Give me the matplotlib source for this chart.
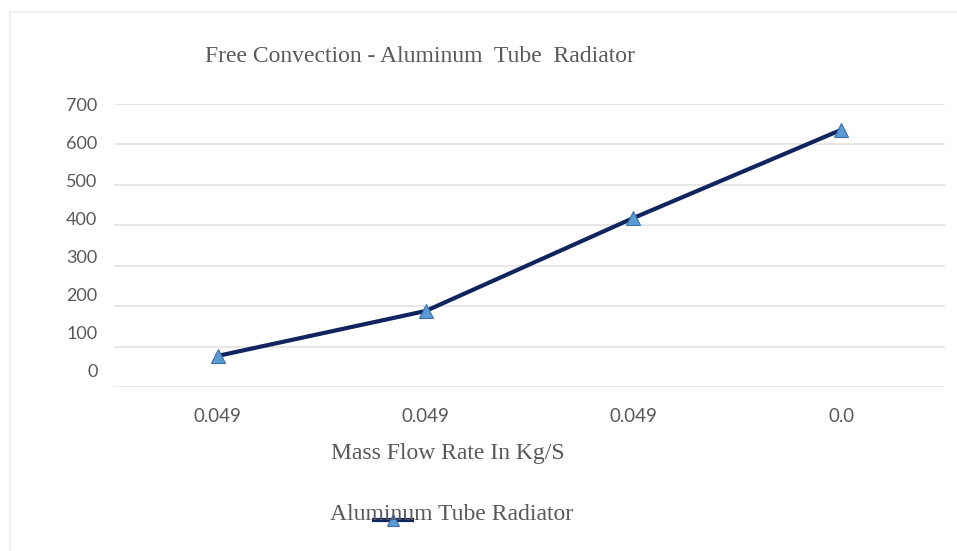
import matplotlib
matplotlib.use("Agg")
import matplotlib.pyplot as plt
from matplotlib.lines import Line2D

# data
categories = ["0.049", "0.049", "0.049", "0.0"]
heat_values = [77, 188, 418, 636]
y_ticks = [0, 100, 200, 300, 400, 500, 600, 700]

line_color = "#10245f"
marker_color = "#5b9bd5"
grey_text = "#595959"

fig = plt.figure(figsize=(9.57, 5.51), dpi=100)
W, H = 957, 551

# axes placed in pixel terms: x 114..945, y 104..387 (from the top)
ax = fig.add_axes([114 / W, 1 - 387 / H, (945 - 114) / W, (387 - 104) / H])

x = list(range(len(categories)))
ax.plot(x, heat_values, color=line_color, lw=3, marker="^", markersize=10,
        markerfacecolor=marker_color, markeredgecolor="#3f6fa8", markeredgewidth=0.8,
        zorder=3)

ax.set_xlim(-0.5, len(categories) - 0.5)
ax.set_ylim(0, 700)
ax.set_yticks(y_ticks)
ax.yaxis.grid(True, color="#e3e3e3", lw=1.2)
ax.set_axisbelow(True)
for s in ax.spines.values():
    s.set_visible(False)
ax.tick_params(length=0)

ax.set_xticks(x)
ax.set_xticklabels(categories, fontfamily="Lato", fontsize=13.5, color=grey_text)
ax.tick_params(axis="x", pad=15)

# y labels in the source sit slightly squeezed against the gridlines
ax.set_yticklabels([])
for v in y_ticks:
    ax.text(-0.02, 37 + v * 0.94, str(v), transform=ax.get_yaxis_transform(),
            ha="right", va="center", fontfamily="Lato", fontsize=13, color=grey_text)

# title, axis title and legend in serif, like the original
fig.text(420 / W, 1 - 57 / H, "Free Convection - Aluminum  Tube  Radiator",
         ha="center", va="center", fontfamily="Liberation Serif", fontsize=17, color=grey_text)
fig.text(448 / W, 1 - 454 / H, "Mass Flow Rate In Kg/S",
         ha="center", va="center", fontfamily="Liberation Serif", fontsize=17, color=grey_text)
fig.text(330 / W, 1 - 514 / H, "Aluminum Tube Radiator",
         ha="left", va="center", fontfamily="Liberation Serif", fontsize=17, color=grey_text)
fig.add_artist(Line2D([374 / W, 412 / W], [1 - 520 / H, 1 - 520 / H], color=line_color, lw=3))
fig.add_artist(Line2D([393 / W], [1 - 520 / H], marker="^", markersize=8, color=marker_color,
                      markeredgecolor="#3f6fa8", markeredgewidth=0.8))

# faint outer frame at the top and left
fig.add_artist(Line2D([10 / W, 1], [1 - 12 / H, 1 - 12 / H], color="#ececec", lw=1.2))
fig.add_artist(Line2D([10 / W, 10 / W], [0, 1 - 12 / H], color="#ececec", lw=1.2))

fig.savefig("out.png", dpi=100, facecolor="white")
